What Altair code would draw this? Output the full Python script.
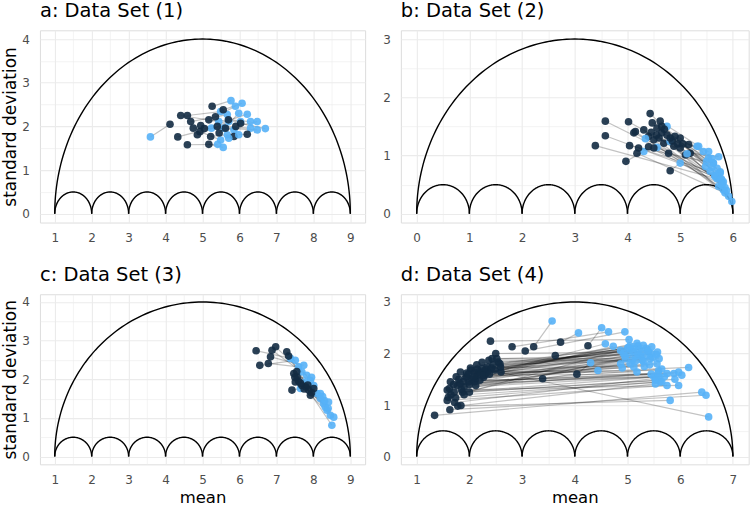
import altair as alt
import numpy as np
import pandas as pd

DARK = "#132B43"
LIGHT = "#56B1F7"
FONT = "DejaVu Sans"

# ---------------- data ----------------
# Data Set (1)
a_dark_mean = [4.12, 4.33, 4.59, 4.41, 4.59, 4.68, 4.75, 4.95, 4.93, 5.17, 5.26, 5.22, 5.17,
               5.40, 5.56, 5.62, 5.85, 6.03, 6.21, 4.86, 5.35, 5.05, 5.70, 5.45, 5.90]
a_dark_sd = [2.05, 1.76, 1.58, 2.25, 2.25, 2.11, 1.96, 2.02, 1.88, 2.15, 2.46, 1.77, 1.59,
             2.00, 2.38, 1.96, 1.77, 2.07, 1.82, 1.81, 2.22, 1.95, 2.15, 1.85, 2.00]
a_light_mean = [3.59, 5.24, 5.41, 5.44, 5.49, 5.67, 5.58, 5.85, 5.49, 6.03, 5.77, 5.67, 5.56,
                6.30, 6.07, 6.48, 5.71, 6.70, 5.98, 5.71, 5.89, 6.21, 6.30, 5.98, 6.48]
a_light_sd = [1.76, 1.96, 1.59, 2.11, 2.34, 2.27, 1.96, 1.92, 1.69, 2.11, 2.59, 1.81, 1.52,
              1.96, 2.53, 1.92, 1.73, 1.95, 1.81, 2.11, 2.46, 2.28, 2.11, 2.30, 2.11]

# Data Set (2)
b_dark_mean = [3.39, 3.58, 3.58, 4.02, 4.04, 3.97, 4.12, 4.15, 4.31, 4.43, 4.21, 4.18, 4.81,
               4.47, 4.62, 4.56, 4.40, 4.50, 4.65, 4.69, 4.81, 5.00, 4.88, 4.78, 5.00, 5.16,
               5.19, 5.10, 4.50, 4.40, 4.55, 4.70, 4.85, 4.95, 4.60, 4.75, 4.90, 5.05, 4.45, 4.65]
b_dark_sd = [1.17, 1.59, 1.34, 1.58, 1.17, 0.90, 1.39, 1.41, 1.44, 1.72, 1.13, 1.04, 0.74,
             1.56, 1.59, 1.47, 1.33, 1.27, 1.39, 1.21, 1.30, 1.30, 1.16, 1.04, 1.13, 1.19,
             1.04, 1.01, 1.13, 1.15, 1.35, 1.45, 1.25, 1.20, 1.30, 1.35, 1.33, 1.20, 1.40, 1.50]
b_light_mean = [5.70, 5.73, 5.66, 5.76, 5.63, 4.31, 5.79, 5.73, 5.82, 5.48, 5.57, 5.85, 5.00,
                4.75, 5.35, 5.44, 4.34, 5.92, 5.54, 4.81, 5.63, 5.76, 5.98, 4.56, 5.70, 5.54,
                5.73, 5.13, 5.82, 5.79, 5.66, 5.60, 5.85, 5.88, 5.32, 5.50, 5.70, 5.78, 5.80, 5.60]
b_light_sd = [0.60, 0.62, 0.64, 0.70, 0.87, 1.07, 0.58, 0.47, 0.41, 0.81, 0.73, 0.36, 0.87,
              1.50, 1.16, 1.07, 1.29, 0.30, 0.96, 1.24, 0.87, 0.72, 0.21, 1.14, 0.78, 1.07,
              0.98, 1.03, 0.55, 0.50, 0.66, 0.80, 0.45, 0.40, 1.16, 0.90, 0.68, 0.60, 0.52, 0.95]

# Data Set (3)
c_dark_mean = [6.45, 6.55, 6.78, 6.84, 6.98, 6.88, 7.28, 7.33, 7.47, 7.56, 7.51, 7.42,
               7.69, 7.87, 7.92, 8.01, 7.55, 7.80, 7.95, 7.60, 7.75, 7.85, 7.50, 7.65]
c_dark_sd = [2.74, 2.36, 2.41, 2.58, 2.84, 2.75, 2.71, 2.60, 2.15, 2.06, 1.93, 1.72,
             1.84, 1.72, 1.59, 1.76, 2.20, 1.80, 1.65, 1.95, 1.75, 1.85, 2.05, 1.90]
c_light_mean = [7.38, 7.51, 7.60, 7.74, 7.69, 7.82, 7.92, 7.78, 8.01, 8.10, 8.19, 7.65,
                8.28, 8.37, 8.46, 8.55, 8.32, 8.50, 8.41, 8.19, 8.30, 8.25, 7.95, 8.40]
c_light_sd = [2.54, 2.49, 2.32, 2.36, 2.19, 2.10, 1.97, 1.93, 1.84, 1.63, 1.50, 1.76,
              1.37, 1.20, 1.07, 1.02, 1.28, 0.81, 1.41, 1.63, 1.45, 1.55, 2.05, 1.25]

# Data Set (4)
d_dark_mean = [1.34, 1.63, 1.78, 1.84, 1.58, 1.58, 1.74, 1.71, 1.87, 1.64, 1.77, 1.83, 1.93,
               1.99, 2.09, 2.03, 2.18, 2.12, 2.24, 2.27, 2.24, 2.37, 2.43, 2.50, 2.55, 2.59,
               2.60, 2.40, 2.81, 3.06, 3.22, 3.39, 3.63, 3.73, 4.25, 4.04, 1.90, 2.34, 1.95,
               2.15, 2.05, 2.30, 2.20, 1.70, 1.80, 2.00, 1.85, 2.10, 2.35, 2.45, 1.65, 1.95,
               1.60, 2.15, 2.28,
               1.62, 1.75, 1.88, 1.98, 2.08, 2.22, 2.32, 2.42, 2.52, 2.48, 1.72, 1.90, 2.02,
               2.14, 2.28, 1.82, 2.00, 2.38, 2.58, 2.12]
d_dark_sd = [0.80, 0.91, 0.98, 0.99, 1.09, 1.29, 1.14, 1.25, 1.25, 1.45, 1.38, 1.64, 1.54,
             1.45, 1.64, 1.68, 1.64, 1.51, 1.71, 1.54, 1.83, 1.87, 1.90, 2.00, 1.83, 1.74,
             1.64, 2.24, 2.13, 2.05, 2.13, 1.51, 1.96, 2.22, 2.15, 1.60, 1.35, 1.74, 1.62,
             1.58, 1.50, 1.60, 1.48, 1.40, 1.50, 1.40, 1.30, 1.45, 1.65, 1.78, 1.20, 1.55,
             1.15, 1.70, 1.66,
             1.32, 1.55, 1.45, 1.60, 1.55, 1.62, 1.70, 1.72, 1.90, 1.68, 1.05, 1.20, 1.72,
             1.78, 1.58, 1.42, 1.25, 1.60, 1.80, 1.38]
d_light_mean = [6.41, 6.49, 5.81, 5.53, 5.75, 5.97, 5.62, 6.03, 5.53, 5.88, 5.75, 5.59, 6.16,
                5.97, 5.56, 5.43, 5.18, 5.12, 6.54, 4.87, 5.28, 5.09, 4.96, 5.57, 5.40, 5.22,
                5.03, 5.03, 4.64, 4.95, 3.57, 4.44, 5.46, 4.07, 4.51, 4.30, 5.60, 4.87, 5.30,
                5.18, 4.73, 4.58, 5.50, 5.65, 5.60, 5.05, 5.35, 5.25, 5.45, 5.10, 5.15, 4.95,
                5.00, 5.35, 5.20,
                5.30, 5.42, 5.20, 5.38, 5.48, 5.02, 4.92, 5.26, 5.55, 5.12, 5.55, 5.65, 5.32,
                5.15, 5.45, 5.70, 5.90, 4.90, 5.05, 5.58]
d_light_sd = [1.25, 1.19, 1.09, 1.41, 1.38, 1.38, 1.45, 1.58, 1.48, 1.61, 1.61, 1.67, 1.73,
              1.64, 1.80, 1.90, 1.64, 1.74, 0.77, 1.80, 1.87, 1.87, 1.90, 2.03, 2.03, 2.08,
              2.00, 2.27, 2.42, 2.42, 2.63, 1.67, 2.13, 2.40, 2.50, 1.82, 1.55, 2.06, 2.16,
              2.20, 2.14, 2.19, 1.55, 1.70, 1.90, 1.80, 1.95, 1.95, 2.00, 2.05, 1.95, 1.95,
              2.10, 2.10, 2.15,
              1.85, 1.78, 1.98, 2.06, 1.92, 2.12, 2.00, 2.02, 1.98, 2.10, 1.52, 1.45, 1.75,
              1.85, 1.60, 1.55, 1.50, 1.72, 2.15, 1.62]

titles = ["a: Data Set (1)", "b: Data Set (2)", "c: Data Set (3)", "d: Data Set (4)"]
scale_lo = [1, 0, 1, 1]
scale_hi = [9, 6, 9, 7]


def bounds_frame(lo, hi):
    """Upper bound of the SD for a given mean (semicircles)."""
    rows = []
    t = np.linspace(0, np.pi, 121)
    circles = [((lo + hi) / 2, (hi - lo) / 2)] + [(k + 0.5, 0.5) for k in range(lo, hi)]
    for cid, (c, r) in enumerate(circles):
        for i, tt in enumerate(t):
            rows.append({"x": c - r * np.cos(tt), "y": r * np.sin(tt), "cid": cid, "ord": i})
    return pd.DataFrame(rows)


def panel(title, lo, hi, dm, ds, lm, ls, width, height, xtitle, ytitle):
    rng = hi - lo
    ymax = rng / 2
    xdom = [lo - 0.05 * rng, hi + 0.05 * rng]
    ydom = [-0.05 * ymax, ymax * 1.05]
    xvals = list(np.arange(lo, hi + 0.001, 0.5))
    yvals = list(np.arange(0, ymax + 0.001, 0.5))
    major = "datum.value % 1 === 0"
    common = dict(
        domain=False, ticks=False, tickSize=0, grid=True, gridColor="#EBEBEB",
        gridWidth={"condition": {"test": major, "value": 1.1}, "value": 0.6},
        labelExpr="datum.value % 1 === 0 ? format(datum.value, 'd') : ''",
        labelColor="#4D4D4D", labelFontSize=12, labelFont=FONT,
        labelOverlap=False, labelFlush=False,
        titleFont=FONT, titleFontWeight="normal", titleColor="black",
    )
    xax = alt.Axis(values=xvals, labelPadding=10, titlePadding=4, title=xtitle,
                   titleFontSize=16.5, **common)
    yax = alt.Axis(values=yvals, labelPadding=10.5, titlePadding=2.7, title=ytitle,
                   titleFontSize=17, **common)
    X = alt.X("x:Q", scale=alt.Scale(domain=xdom, nice=False, zero=False), axis=xax)
    Y = alt.Y("y:Q", scale=alt.Scale(domain=ydom, nice=False, zero=False), axis=yax)

    pts = []
    segs = []
    for i in range(len(dm)):
        pts.append({"x": dm[i], "y": ds[i], "grp": "dark", "pair": i})
        pts.append({"x": lm[i], "y": ls[i], "grp": "light", "pair": i})
        segs.append({"x": dm[i], "y": ds[i], "pair": i, "o": 0})
        segs.append({"x": lm[i], "y": ls[i], "pair": i, "o": 1})
    pts = pd.DataFrame(pts)
    segs = pd.DataFrame(segs)

    curves = alt.Chart(bounds_frame(lo, hi)).mark_line(color="black", strokeWidth=1.4).encode(
        x=X, y=Y, detail="cid:N", order="ord:Q")
    lines = alt.Chart(segs).mark_line(color="black", opacity=0.24, strokeWidth=1.2).encode(
        x=X, y=Y, detail="pair:N", order="o:Q")
    points = alt.Chart(pts).mark_circle(size=58, opacity=0.9).encode(
        x=X, y=Y,
        color=alt.Color("grp:N", scale=alt.Scale(domain=["dark", "light"], range=[DARK, LIGHT]),
                        legend=None))
    return alt.layer(curves, lines, points).properties(
        width=width, height=height,
        title=alt.TitleParams(text=title, anchor="start", frame="group", font=FONT,
                              fontSize=19.5, fontWeight="normal", color="black",
                              baseline="alphabetic", offset=-6),
    )


pa = panel(titles[0], scale_lo[0], scale_hi[0], a_dark_mean, a_dark_sd, a_light_mean, a_light_sd,
           325.6, 192.5, None, "standard deviation")
pb = panel(titles[1], scale_lo[1], scale_hi[1], b_dark_mean, b_dark_sd, b_light_mean, b_light_sd,
           348.3, 192.5, None, None)
pc = panel(titles[2], scale_lo[2], scale_hi[2], c_dark_mean, c_dark_sd, c_light_mean, c_light_sd,
           325.6, 170.3, "mean", "standard deviation")
pd_ = panel(titles[3], scale_lo[3], scale_hi[3], d_dark_mean, d_dark_sd, d_light_mean, d_light_sd,
            348.3, 170.3, "mean", None)

chart = alt.concat(pa, pb, pc, pd_, columns=2, spacing={"row": 71.3, "column": 35.4},
                   bounds="flush", align="each").properties(
    padding={"left": 0, "top": 0, "right": 0, "bottom": 0}
).configure_view(stroke=None).configure(font=FONT)

chart.save("out.html", embed_options={"renderer": "svg", "actions": False})
